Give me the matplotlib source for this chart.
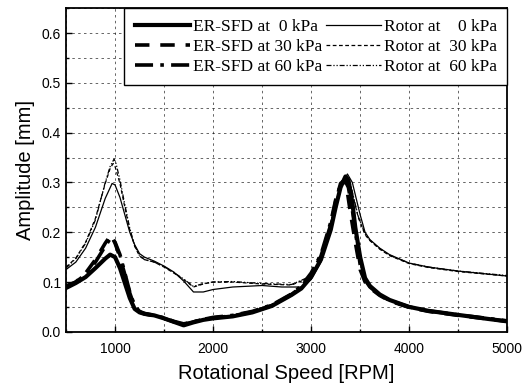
import numpy as np
import matplotlib
matplotlib.use('Agg')
import matplotlib.pyplot as plt
from matplotlib.ticker import MultipleLocator

# --- data ---
# ER-SFD amplitude
er0_rpm = [500, 600, 700, 800, 900, 950, 1000, 1050, 1100, 1150, 1200, 1250, 1300, 1400, 1500,
           1600, 1700, 1800, 1900, 2000, 2200, 2400, 2600, 2800, 2900, 3000, 3100, 3200, 3250,
           3300, 3350, 3380, 3420, 3450, 3500, 3550, 3600, 3700, 3800, 4000, 4200, 4500, 4800, 5000]
er0_amp = [0.088, 0.098, 0.11, 0.128, 0.147, 0.155, 0.15, 0.128, 0.098, 0.068, 0.046, 0.039,
           0.036, 0.033, 0.027, 0.02, 0.013, 0.019, 0.024, 0.027, 0.031, 0.039, 0.052, 0.074,
           0.087, 0.11, 0.145, 0.205, 0.25, 0.29, 0.312, 0.305, 0.26, 0.21, 0.15, 0.108, 0.092,
           0.075, 0.064, 0.05, 0.042, 0.034, 0.026, 0.021]

er30_rpm = [500, 600, 700, 800, 900, 960, 1000, 1050, 1100, 1150, 1200, 1250, 1300, 1400, 1500,
            1600, 1700, 1800, 1900, 2000, 2200, 2400, 2600, 2800, 2900, 3000, 3100, 3200, 3250,
            3300, 3330, 3370, 3400, 3450, 3500, 3550, 3600, 3700, 3800, 4000, 4200, 4500, 4800, 5000]
er30_amp = [0.09, 0.1, 0.118, 0.145, 0.178, 0.195, 0.178, 0.15, 0.115, 0.078, 0.05, 0.04,
            0.036, 0.032, 0.027, 0.02, 0.015, 0.02, 0.025, 0.028, 0.032, 0.04, 0.053, 0.075,
            0.09, 0.115, 0.152, 0.215, 0.262, 0.298, 0.303, 0.28, 0.24, 0.18, 0.125, 0.1, 0.088,
            0.073, 0.062, 0.049, 0.041, 0.033, 0.026, 0.021]

er60_rpm = [500, 600, 700, 800, 900, 960, 1000, 1050, 1100, 1150, 1200, 1250, 1300, 1400, 1500,
            1600, 1700, 1800, 1900, 2000, 2200, 2400, 2600, 2800, 2900, 3000, 3100, 3200, 3250,
            3300, 3340, 3380, 3420, 3460, 3500, 3550, 3600, 3700, 3800, 4000, 4200, 4500, 4800, 5000]
er60_amp = [0.092, 0.1, 0.115, 0.14, 0.172, 0.19, 0.18, 0.155, 0.118, 0.08, 0.052, 0.041,
            0.037, 0.033, 0.028, 0.021, 0.016, 0.02, 0.025, 0.029, 0.033, 0.041, 0.054, 0.076,
            0.092, 0.118, 0.155, 0.22, 0.265, 0.295, 0.306, 0.29, 0.245, 0.19, 0.135, 0.104, 0.09,
            0.074, 0.063, 0.05, 0.042, 0.034, 0.027, 0.022]

# Rotor amplitude
rot0_rpm = [500, 600, 700, 800, 900, 970, 1000, 1050, 1100, 1150, 1200, 1250, 1300, 1400, 1500,
            1600, 1700, 1800, 1900, 2000, 2200, 2500, 2700, 2900, 3000, 3100, 3200, 3300, 3370,
            3420, 3500, 3550, 3600, 3700, 3800, 4000, 4200, 4500, 5000]
rot0_amp = [0.125, 0.14, 0.168, 0.21, 0.268, 0.298, 0.295, 0.27, 0.235, 0.2, 0.175, 0.157,
            0.15, 0.142, 0.132, 0.12, 0.102, 0.08, 0.08, 0.085, 0.09, 0.093, 0.09, 0.09, 0.105,
            0.14, 0.215, 0.29, 0.317, 0.3, 0.235, 0.2, 0.185, 0.168, 0.155, 0.138, 0.13, 0.122, 0.112]

rot30_rpm = [500, 600, 700, 800, 900, 950, 980, 1000, 1050, 1100, 1150, 1200, 1250, 1300, 1400,
             1500, 1600, 1700, 1800, 1900, 2000, 2200, 2500, 2800, 3000, 3100, 3200, 3300, 3350,
             3400, 3480, 3550, 3600, 3700, 3800, 4000, 4200, 4500, 5000]
rot30_amp = [0.13, 0.148, 0.18, 0.228, 0.298, 0.328, 0.338, 0.332, 0.298, 0.25, 0.205, 0.172,
             0.152, 0.145, 0.14, 0.13, 0.118, 0.105, 0.09, 0.096, 0.1, 0.1, 0.096, 0.094, 0.11,
             0.145, 0.22, 0.292, 0.31, 0.295, 0.23, 0.195, 0.183, 0.166, 0.153, 0.137, 0.129, 0.121, 0.112]

rot60_rpm = [500, 600, 700, 800, 900, 950, 990, 1010, 1050, 1100, 1150, 1200, 1250, 1300, 1400,
             1500, 1600, 1700, 1800, 1900, 2000, 2200, 2500, 2800, 3000, 3100, 3200, 3300, 3350,
             3400, 3480, 3550, 3600, 3700, 3800, 4000, 4200, 4500, 5000]
rot60_amp = [0.128, 0.147, 0.178, 0.225, 0.3, 0.332, 0.347, 0.338, 0.305, 0.255, 0.208, 0.173,
             0.153, 0.145, 0.14, 0.131, 0.119, 0.106, 0.091, 0.097, 0.1, 0.101, 0.097, 0.095, 0.112,
             0.148, 0.222, 0.295, 0.312, 0.298, 0.232, 0.197, 0.184, 0.167, 0.154, 0.138, 0.13, 0.122, 0.113]

# --- plotting ---
plt.rcParams['font.family'] = ['Liberation Sans', 'DejaVu Sans']

fig = plt.figure(figsize=(5.24, 3.89), dpi=100)
ax = fig.add_axes([0.126, 0.147, 0.842, 0.832])

ax.plot(er0_rpm, er0_amp, color='k', lw=3.0, ls='-', label='ER-SFD at  0 kPa')
ax.plot(er30_rpm, er30_amp, color='k', lw=2.6, ls=(0, (4, 3)), label='ER-SFD at 30 kPa')
ax.plot(er60_rpm, er60_amp, color='k', lw=2.6, ls=(0, (5, 2, 1, 2)), label='ER-SFD at 60 kPa')
ax.plot(rot0_rpm, rot0_amp, color='k', lw=0.9, ls='-', label='Rotor at    0 kPa')
ax.plot(rot30_rpm, rot30_amp, color='k', lw=0.9, ls=(0, (3, 2)), label='Rotor at  30 kPa')
ax.plot(rot60_rpm, rot60_amp, color='k', lw=0.9, ls=(0, (4, 1.5, 1, 1.5, 1, 1.5)), label='Rotor at  60 kPa')

ax.set_xlim(500, 5000)
ax.set_ylim(0, 0.65)
ax.xaxis.set_major_locator(MultipleLocator(1000))
ax.xaxis.set_minor_locator(MultipleLocator(500))
ax.yaxis.set_major_locator(MultipleLocator(0.1))
ax.yaxis.set_minor_locator(MultipleLocator(0.05))
ax.xaxis.set_major_formatter(plt.FuncFormatter(lambda v, p: f'{int(v)}' if v > 500 else ''))
ax.yaxis.set_major_formatter(plt.FuncFormatter(lambda v, p: f'{v:.1f}'))

ax.grid(True, which='both', color='k', ls=(0, (3, 4)), lw=0.6, alpha=0.7)
ax.tick_params(which='both', direction='in', labelsize=10, width=1.0)
ax.tick_params(which='major', length=4)
ax.tick_params(axis='x', pad=7)
ax.tick_params(which='minor', length=2.5)
for s in ax.spines.values():
    s.set_linewidth(1.3)

ax.set_xlabel('Rotational Speed [RPM]', fontsize=14.5, labelpad=6)
ax.set_ylabel('Amplitude [mm]', fontsize=14.5, labelpad=5)

leg = ax.legend(loc='upper right', ncol=2, frameon=True, fancybox=False, framealpha=1,
                edgecolor='k', borderaxespad=0, handlelength=3.2, handletextpad=0.15,
                columnspacing=0.2, labelspacing=0.22, borderpad=0.6,
                prop={'family': 'Liberation Serif', 'size': 12.5})
leg.get_frame().set_linewidth(1.0)

plt.savefig('out.png', dpi=100)
